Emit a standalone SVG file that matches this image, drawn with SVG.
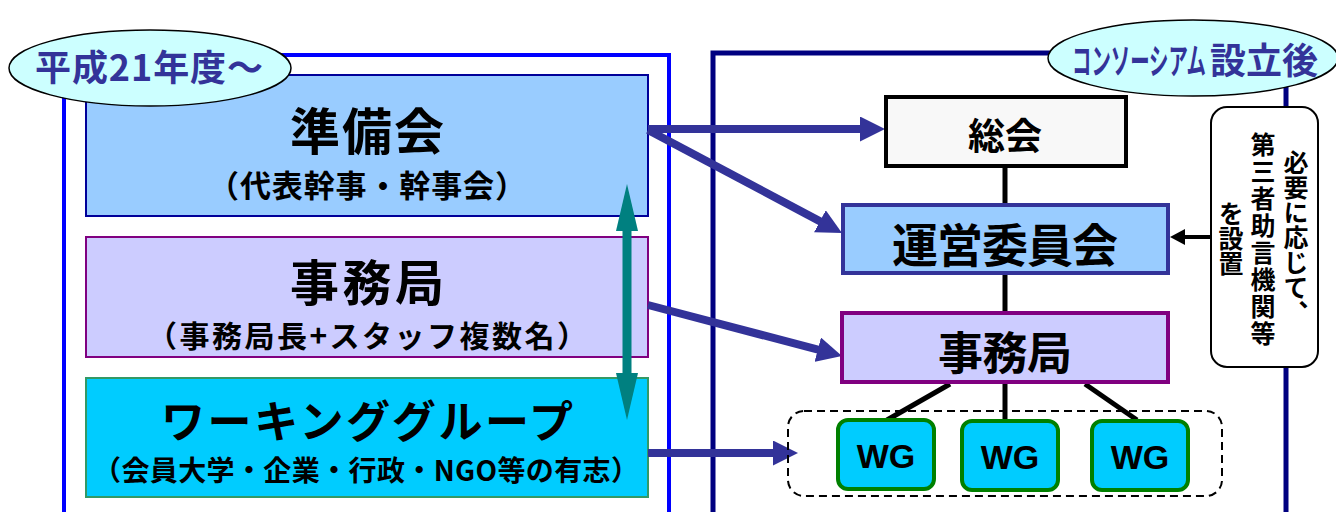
<svg xmlns="http://www.w3.org/2000/svg" width="1336" height="512" viewBox="0 0 1336 512">
<style>
.jp{font-family:"Noto Sans CJK JP","Noto Sans CJK SC",sans-serif;font-weight:700;fill:#000;text-anchor:middle;dominant-baseline:central}
.lbl{fill:#333399}
.wg{font-family:"Liberation Sans",Arial,sans-serif;font-weight:700;font-size:34px;text-anchor:middle}
.arr{stroke:#333399;stroke-width:8;fill:none}
.ln{stroke:#000;stroke-width:5;fill:none}
.vt{writing-mode:vertical-rl;text-anchor:start;dominant-baseline:auto;font-size:25px}
</style>
<defs>
<marker id="ah" markerUnits="userSpaceOnUse" markerWidth="25" markerHeight="25" refX="12" refY="12.5" orient="auto">
<path d="M0,0 L25,12.5 L0,25 z" fill="#333399"/>
</marker>
<marker id="th" markerUnits="userSpaceOnUse" markerWidth="47" markerHeight="22" refX="17" refY="11" orient="auto-start-reverse">
<path d="M0,0 L47,11 L0,22 z" fill="#008080"/>
</marker>
<marker id="bh" markerUnits="userSpaceOnUse" markerWidth="15" markerHeight="16" refX="7" refY="8" orient="auto">
<path d="M0,0 L15,8 L0,16 z" fill="#000"/>
</marker>
</defs>
<rect width="1336" height="512" fill="#fff"/>

<g id="frame-left">
<rect x="64" y="55" width="605" height="480" fill="none" stroke="#0000FF" stroke-width="4"/>
</g>
<g id="frame-right">
<rect x="713" y="53" width="573" height="480" fill="none" stroke="#000080" stroke-width="5"/>
</g>

<g id="junbikai">
<rect x="86" y="75" width="562" height="141" fill="#99CCFF" stroke="#000099" stroke-width="2"/>
<text class="jp" x="367" y="128" font-size="50" textLength="154">準備会</text>
<text class="jp" x="367" y="183" font-size="31" textLength="318">（代表幹事・幹事会）</text>
</g>
<g id="jimukyoku-left">
<rect x="86" y="237" width="562" height="120" fill="#CCCCFF" stroke="#800080" stroke-width="2"/>
<text class="jp" x="367" y="279" font-size="49" textLength="154">事務局</text>
<text class="jp" x="367" y="334" font-size="30" textLength="440">（事務局長+スタッフ複数名）</text>
</g>
<g id="workinggroup">
<rect x="86" y="378" width="562" height="119" fill="#00CCFF" stroke="#339966" stroke-width="2"/>
<text class="jp" x="367" y="419" font-size="44" textLength="412">ワーキンググループ</text>
<text class="jp" x="366" y="469" font-size="28" textLength="546">（会員大学・企業・行政・NGO等の有志）</text>
</g>

<g id="label-left">
<ellipse cx="150" cy="68" rx="141" ry="38" fill="#CCFFFF" stroke="#000" stroke-width="1.5"/>
<text class="jp lbl" x="149" y="65" font-size="36" textLength="228">平成21年度～</text>
</g>
<g id="label-right">
<ellipse cx="1193" cy="58" rx="145" ry="38" fill="#CCFFFF" stroke="#000" stroke-width="1.5"/>
<text class="jp lbl" transform="translate(1072,58) scale(0.57,1.05)" x="0" y="0" font-size="34" style="text-anchor:start">コンソーシアム</text>
<text class="jp lbl" x="1210" y="58" font-size="36" style="text-anchor:start" textLength="108">設立後</text>
</g>

<g id="connectors">
<line class="arr" x1="648" y1="129" x2="872" y2="129" marker-end="url(#ah)"/>
<line class="arr" x1="648" y1="130" x2="830.5" y2="226.9" marker-end="url(#ah)"/>
<line class="arr" x1="648" y1="305" x2="829.4" y2="352.7" marker-end="url(#ah)"/>
<line class="arr" x1="648" y1="453" x2="785" y2="453" marker-end="url(#ah)"/>
<line x1="627" y1="214" x2="627" y2="390" stroke="#008080" stroke-width="9" marker-start="url(#th)" marker-end="url(#th)"/>
<line x1="1211" y1="237" x2="1178" y2="237" stroke="#000" stroke-width="4" marker-end="url(#bh)"/>
<line class="ln" x1="1005" y1="167" x2="1005" y2="204"/>
<line class="ln" x1="1005" y1="274" x2="1005" y2="312"/>
<line class="ln" x1="950" y1="384" x2="887" y2="420"/>
<line class="ln" x1="1005" y1="384" x2="1005" y2="421"/>
<line class="ln" x1="1085" y1="384" x2="1137" y2="420"/>
</g>

<g id="soukai">
<rect x="886" y="97" width="240" height="69" fill="#F8F8F8" stroke="#000" stroke-width="4"/>
<text class="jp" x="1005" y="134" font-size="37">総会</text>
</g>
<g id="unei">
<rect x="843" y="205" width="325" height="68" fill="#99CCFF" stroke="#333399" stroke-width="4"/>
<text class="jp" x="1005" y="242" font-size="46" textLength="226">運営委員会</text>
</g>
<g id="jimukyoku-right">
<rect x="842" y="313" width="326" height="69" fill="#CCCCFF" stroke="#800080" stroke-width="4"/>
<text class="jp" x="1005" y="350" font-size="45" textLength="134">事務局</text>
</g>
<g id="wg-group">
<rect x="788" y="411" width="434" height="85" rx="16" fill="none" stroke="#000" stroke-width="2" stroke-dasharray="8 5"/>
</g>
<g id="wg1">
<rect x="838" y="420" width="96" height="69" rx="10" fill="#00CCFF" stroke="#008000" stroke-width="4"/>
<text class="wg" x="886" y="468">WG</text>
</g>
<g id="wg2">
<rect x="962" y="421" width="96" height="69" rx="10" fill="#00CCFF" stroke="#008000" stroke-width="4"/>
<text class="wg" x="1010" y="469">WG</text>
</g>
<g id="wg3">
<rect x="1092" y="421" width="96" height="69" rx="10" fill="#00CCFF" stroke="#008000" stroke-width="4"/>
<text class="wg" x="1140" y="469">WG</text>
</g>

<g id="note">
<rect x="1211" y="107" width="107" height="260" rx="16" fill="#fff" stroke="#000" stroke-width="2"/>
<text class="jp vt" x="1296" y="150" letter-spacing="0">必要に応じて、</text>
<text class="jp vt" x="1263" y="132" letter-spacing="2">第三者助言機関等</text>
<text class="jp vt" x="1231" y="201">を設置</text>
</g>
</svg>
